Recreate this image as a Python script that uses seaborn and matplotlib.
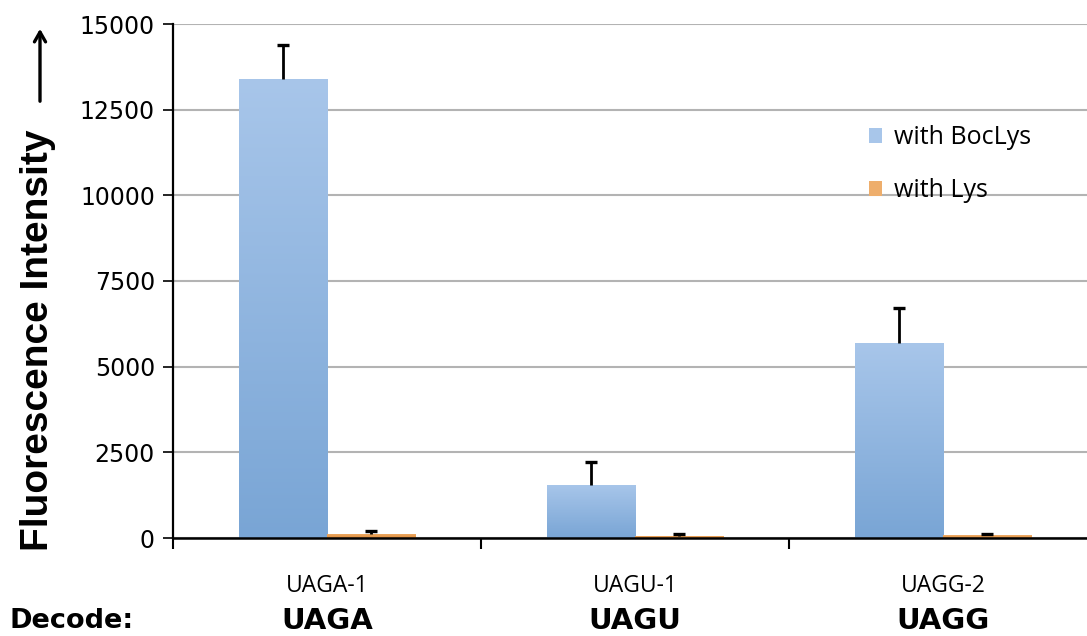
import numpy as np
import pandas as pd
import matplotlib
matplotlib.use("Agg")
import matplotlib.pyplot as plt
import seaborn as sns

# Measured fluorescence per construct
constructs = ["UAGA-1", "UAGU-1", "UAGG-2"]
decoded = ["UAGA", "UAGU", "UAGG"]
conditions = ["with BocLys", "with Lys"]
boclys_mean = [13400, 1550, 5700]
boclys_err = [1000, 680, 1000]
lys_mean = [130, 70, 80]
lys_err = [60, 50, 50]
yticks = [0, 2500, 5000, 7500, 10000, 12500, 15000]

df = pd.DataFrame({
    "construct": constructs * 2,
    "condition": [conditions[0]] * 3 + [conditions[1]] * 3,
    "value": boclys_mean + lys_mean,
    "err": boclys_err + lys_err,
})

sns.set_theme(style="white")
plt.rcParams["font.family"] = ["DejaVu Sans"]
plt.rcParams["text.color"] = "black"
plt.rcParams["xtick.color"] = "black"
plt.rcParams["ytick.color"] = "black"
plt.rcParams["xtick.labelcolor"] = "black"
plt.rcParams["ytick.labelcolor"] = "black"

fig = plt.figure(figsize=(10.87, 6.36), dpi=100)
ax = fig.add_axes([173 / 1087, 1 - 538 / 636, 924 / 1087, 514 / 636])

palette = {conditions[0]: "#8fb4e0", conditions[1]: "#e6984a"}
sns.barplot(data=df, x="construct", y="value", hue="condition",
            order=constructs, hue_order=conditions, palette=palette,
            width=0.574, errorbar=None, saturation=1, ax=ax,
            edgecolor="none", linewidth=0, legend=True)

# vertical gradient fill on each bar
gradients = {
    conditions[0]: ("#a8c6ea", "#79a5d5"),
    conditions[1]: ("#eeae6c", "#e08e3c"),
}
for cont, cond in zip(ax.containers, conditions):
    top_c, bot_c = gradients[cond]
    cmap = matplotlib.colors.LinearSegmentedColormap.from_list(cond, [bot_c, top_c])
    grad = np.linspace(0, 1, 256).reshape(-1, 1)
    for bar in cont:
        x0, y0 = bar.get_x(), bar.get_y()
        w, h = bar.get_width(), bar.get_height()
        im = ax.imshow(grad, cmap=cmap, origin="lower", aspect="auto",
                       extent=(x0, x0 + w, y0, y0 + h), zorder=2.5,
                       interpolation="bilinear")
        im.set_clip_path(bar)

# upper-only error bars at bar centres
cap_half = 0.019
for cont, cond in zip(ax.containers, conditions):
    sub = df[df["condition"] == cond].set_index("construct").loc[constructs]
    xs = np.array([b.get_x() + b.get_width() / 2 for b in cont])
    tops = sub["value"].to_numpy() + sub["err"].to_numpy()
    ax.vlines(xs, sub["value"], tops, color="black", linewidth=2, zorder=4)
    ax.hlines(tops, xs - cap_half, xs + cap_half, color="black",
              linewidth=2.4, zorder=4)

ax.set_xlim(-0.5, 2.5)
ax.set_ylim(0, 15000)
ax.set_yticks(yticks)
ax.set_yticklabels([str(v) for v in yticks], fontsize=17, color="black")
ax.yaxis.grid(True, color="#b3b3b3", linewidth=1.5)
ax.set_axisbelow(True)
ax.set_xlabel("")
ax.set_ylabel("")

# category boundary ticks along the baseline
ax.set_xticks([-0.5, 0.5, 1.5, 2.5], minor=True)
ax.tick_params(axis="x", which="minor", length=8, width=1.5, color="black",
               direction="out", bottom=True)
ax.tick_params(axis="x", which="major", length=0, pad=26)
ax.set_xticks(range(len(constructs)))
ax.set_xticklabels(constructs, fontsize=16.5, color="black",
                   family=["Open Sans", "DejaVu Sans"])
ax.tick_params(axis="y", length=7, width=1.2, color="black", direction="out",
               left=True, pad=6)

for side in ["top", "right"]:
    ax.spines[side].set_visible(False)
ax.spines["left"].set_color("black")
ax.spines["left"].set_linewidth(1.6)
ax.spines["bottom"].set_color("black")
ax.spines["bottom"].set_linewidth(1.8)
ax.spines["bottom"].set_zorder(5)

leg = ax.legend(loc="upper left", bbox_to_anchor=(0.742, 0.822), frameon=False,
                prop={"family": ["Open Sans", "DejaVu Sans"], "size": 18},
                handlelength=0.55, handleheight=0.55, handletextpad=0.45,
                labelspacing=1.1, borderaxespad=0, labelcolor="black")
for h, cond in zip(leg.legend_handles, conditions):
    h.set_facecolor(gradients[cond][0])
    h.set_edgecolor(gradients[cond][1])

# axis title with arrow
fig.text(38 / 1087, 1 - 340 / 636, "Fluorescence Intensity", rotation=90,
         ha="center", va="center", fontsize=28, fontweight="bold",
         color="black", family=["Liberation Sans", "DejaVu Sans"])
fig.patches.append(matplotlib.patches.FancyArrowPatch(
    (40 / 1087, 1 - 104 / 636), (40 / 1087, 1 - 26 / 636),
    transform=fig.transFigure, arrowstyle="->,head_length=7,head_width=4",
    linewidth=2.4, color="black", figure=fig))

# decoded codon row
fig.text(10 / 1087, 1 - 621 / 636, "Decode:", ha="left", va="center",
         fontsize=19.5, fontweight="bold", color="black")
for i, code in enumerate(decoded):
    xd = ax.transData.transform((i, 0))[0] / fig.bbox.width
    fig.text(xd, 1 - 621 / 636, code, ha="center", va="center",
             fontsize=21, fontweight="bold", color="black")

fig.savefig("out.png", dpi=100)
